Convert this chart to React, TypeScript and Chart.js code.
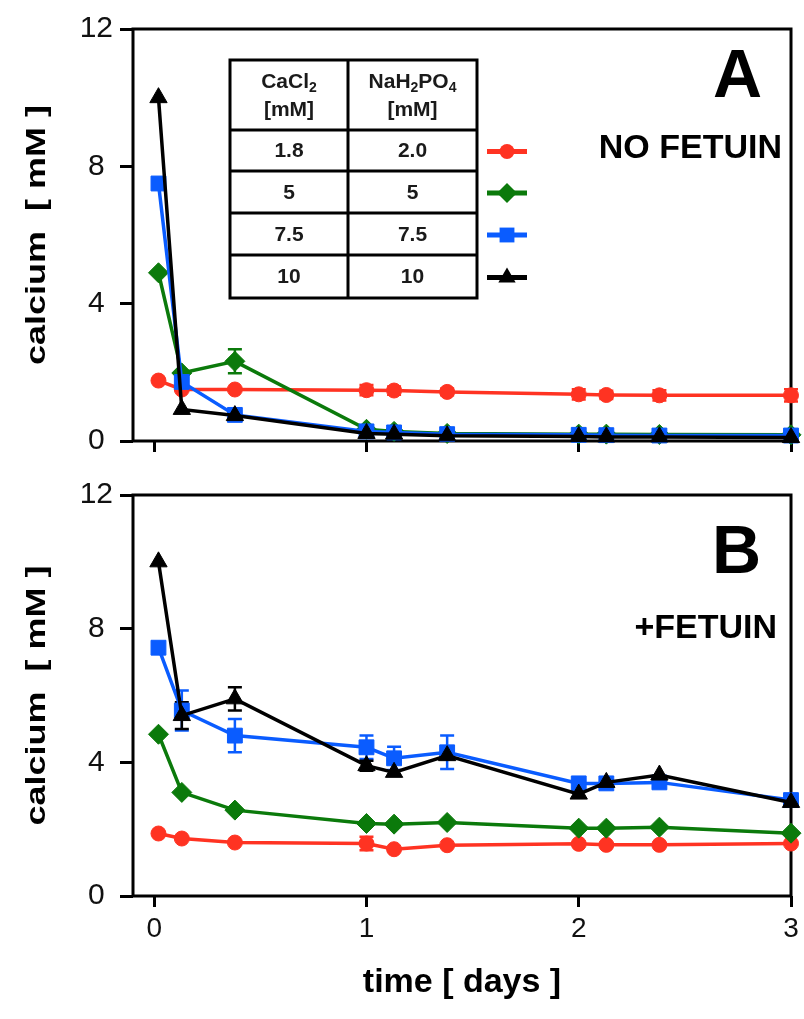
import React, { useEffect, useRef } from "react";
import { Chart, registerables } from "chart.js";
Chart.register(...registerables);

const FONT = "'Liberation Sans', Arial, Helvetica, sans-serif";

// time points [days]
const times = [0.02, 0.13, 0.38, 1.0, 1.13, 1.38, 2.0, 2.13, 2.38, 3.0];
const xTickValues = [0, 1, 2, 3];
const yTickValues = [0, 4, 8, 12];

const seriesNames = ["1.8 / 2.0", "5 / 5", "7.5 / 7.5", "10 / 10"];
const seriesColors = ["#ff3322", "#0b7a0b", "#0a5cff", "#000000"];
const seriesStyles = ["circle", "rectRot", "rect", "triangle"];
const seriesRadius = [7.5, 10, 10.5, 10];

const caCl2Values = ["1.8", "5", "7.5", "10"];
const phosphateValues = ["2.0", "5", "7.5", "10"];

// Panel A: no fetuin
const aRed = [1.76, 1.5, 1.5, 1.48, 1.47, 1.43, 1.36, 1.34, 1.33, 1.33];
const aGreen = [4.9, 1.98, 2.32, 0.34, 0.28, 0.22, 0.2, 0.2, 0.19, 0.18];
const aBlue = [7.5, 1.72, 0.76, 0.28, 0.25, 0.2, 0.18, 0.17, 0.16, 0.16];
const aBlack = [10.0, 0.92, 0.74, 0.22, 0.2, 0.15, 0.13, 0.12, 0.12, 0.1];
const aRedErr = [0, 0, 0, 0.15, 0.12, 0.1, 0.15, 0.12, 0.15, 0.18];
const aGreenErr = [0, 0, 0.35, 0, 0, 0, 0, 0, 0, 0];
const aBlueErr = [0, 0, 0, 0, 0, 0, 0, 0, 0, 0];
const aBlackErr = [0, 0, 0, 0, 0, 0, 0, 0, 0, 0];

// Panel B: + fetuin
const bRed = [1.87, 1.72, 1.6, 1.57, 1.4, 1.52, 1.56, 1.53, 1.53, 1.57];
const bGreen = [4.84, 3.1, 2.57, 2.17, 2.15, 2.2, 2.03, 2.03, 2.06, 1.88];
const bBlue = [7.43, 5.55, 4.8, 4.45, 4.12, 4.3, 3.37, 3.37, 3.4, 2.87];
const bBlack = [10.0, 5.4, 5.9, 3.9, 3.7, 4.2, 3.05, 3.4, 3.62, 2.8];
const bRedErr = [0, 0, 0, 0.2, 0, 0, 0, 0, 0, 0];
const bGreenErr = [0, 0, 0, 0, 0, 0, 0, 0, 0, 0];
const bBlueErr = [0, 0.6, 0.5, 0.35, 0.35, 0.5, 0.1, 0, 0, 0];
const bBlackErr = [0, 0.4, 0.35, 0.15, 0, 0, 0, 0, 0, 0];

function drawMarker(ctx: CanvasRenderingContext2D, style: string, x: number, y: number, r: number) {
  ctx.beginPath();
  if (style === "circle") {
    ctx.arc(x, y, r, 0, Math.PI * 2);
  } else if (style === "rectRot") {
    ctx.moveTo(x - r, y);
    ctx.lineTo(x, y - r);
    ctx.lineTo(x + r, y);
    ctx.lineTo(x, y + r);
  } else if (style === "rect") {
    const s = Math.SQRT1_2 * r;
    ctx.rect(x - s, y - s, 2 * s, 2 * s);
  } else {
    ctx.moveTo(x, y - r);
    ctx.lineTo(x + 0.866 * r, y + 0.5 * r);
    ctx.lineTo(x - 0.866 * r, y + 0.5 * r);
  }
  ctx.closePath();
  ctx.fill();
}

function drawSubText(
  ctx: CanvasRenderingContext2D,
  parts: { t: string; sub?: boolean }[],
  cx: number,
  cy: number,
  size: number
) {
  const big = `bold ${size}px ${FONT}`;
  const small = `bold ${Math.round(size * 0.65)}px ${FONT}`;
  let total = 0;
  parts.forEach((p) => {
    ctx.font = p.sub ? small : big;
    total += ctx.measureText(p.t).width;
  });
  let x = cx - total / 2;
  ctx.textAlign = "left";
  ctx.textBaseline = "middle";
  parts.forEach((p) => {
    ctx.font = p.sub ? small : big;
    ctx.fillText(p.t, x, p.sub ? cy + 6 : cy);
    x += ctx.measureText(p.t).width;
  });
}

type Panel = {
  values: number[][];
  errors: number[][];
  padTop: number;
  xHeight: number;
  showXLabels: boolean;
  decorate: (ctx: CanvasRenderingContext2D, a: any) => void;
};

function makeChart(canvas: HTMLCanvasElement, p: Panel) {
  const datasets = p.values.map((vals, i) => ({
    label: seriesNames[i],
    data: times.map((t, j) => ({ x: t, y: vals[j] })),
    borderColor: seriesColors[i],
    backgroundColor: seriesColors[i],
    pointBackgroundColor: seriesColors[i],
    pointBorderColor: seriesColors[i],
    pointBorderWidth: 1,
    pointStyle: seriesStyles[i],
    pointRadius: seriesRadius[i],
    borderWidth: 3.5,
    tension: 0,
    clip: false as any,
    order: 3 - i,
  }));

  const plugin = {
    id: "frameErrorsText",
    beforeDatasetsDraw(chart: any) {
      const { ctx, chartArea: a, scales } = chart;
      ctx.save();
      ctx.lineWidth = 3;
      ctx.strokeStyle = "#000";
      ctx.strokeRect(a.left, a.top, a.right - a.left, a.bottom - a.top);
      p.errors.forEach((errs, i) => {
        const meta = chart.getDatasetMeta(i);
        errs.forEach((e, j) => {
          if (!e) return;
          const pt = meta.data[j];
          const v = p.values[i][j];
          const y1 = scales.y.getPixelForValue(v + e);
          const y2 = scales.y.getPixelForValue(Math.max(0, v - e));
          ctx.strokeStyle = seriesColors[i];
          ctx.lineWidth = 2.5;
          ctx.beginPath();
          ctx.moveTo(pt.x, y1);
          ctx.lineTo(pt.x, y2);
          ctx.moveTo(pt.x - 7, y1);
          ctx.lineTo(pt.x + 7, y1);
          ctx.moveTo(pt.x - 7, y2);
          ctx.lineTo(pt.x + 7, y2);
          ctx.stroke();
        });
      });
      ctx.restore();
    },
    afterDraw(chart: any) {
      const { ctx, chartArea: a } = chart;
      ctx.save();
      ctx.fillStyle = "#000";
      // y axis title
      ctx.save();
      ctx.translate(37, (a.top + a.bottom) / 2);
      ctx.rotate(-Math.PI / 2);
      ctx.scale(1, 0.78);
      ctx.font = `bold 36px ${FONT}`;
      ctx.textAlign = "center";
      ctx.textBaseline = "middle";
      ctx.fillText("calcium  [ mM ]", 0, 0);
      ctx.restore();
      p.decorate(ctx, a);
      ctx.restore();
    },
  };

  return new Chart(canvas, {
    type: "line",
    data: { datasets },
    options: {
      animation: false,
      responsive: false,
      maintainAspectRatio: false,
      layout: { padding: { top: p.padTop, right: 13, left: 0, bottom: 0 } },
      plugins: { legend: { display: false }, tooltip: { enabled: false } },
      scales: {
        x: {
          type: "linear",
          min: -0.1,
          max: 3,
          afterBuildTicks: (s: any) => {
            s.ticks = xTickValues.map((v) => ({ value: v }));
          },
          afterFit: (s: any) => {
            s.height = p.xHeight;
          },
          border: { display: false },
          grid: {
            drawOnChartArea: false,
            drawTicks: true,
            tickLength: 11,
            tickWidth: 3,
            tickColor: "#000",
          },
          ticks: {
            display: p.showXLabels,
            font: { family: FONT, size: 28 },
            color: "#111",
            padding: 5,
            maxRotation: 0,
            autoSkip: false,
            callback: (v: any) => String(v),
          },
        },
        y: {
          type: "linear",
          min: 0,
          max: 12,
          afterBuildTicks: (s: any) => {
            s.ticks = yTickValues.map((v) => ({ value: v }));
          },
          afterFit: (s: any) => {
            s.width = 133;
          },
          border: { display: false },
          grid: {
            drawOnChartArea: false,
            drawTicks: true,
            tickLength: 13,
            tickWidth: 3,
            tickColor: "#000",
          },
          ticks: {
            font: { family: FONT, size: 30 },
            color: "#111",
            padding: 7,
            crossAlign: "center",
            callback: (v: any) => String(v),
          },
        },
      },
    } as any,
    plugins: [plugin as any],
  });
}

function decorateA(ctx: CanvasRenderingContext2D, a: any) {
  // table
  const L = 230, R = 477, T = 60, B = 298, C = 348;
  const rows = [130, 171, 213, 255];
  ctx.strokeStyle = "#000";
  ctx.lineWidth = 3;
  ctx.strokeRect(L, T, R - L, B - T);
  ctx.beginPath();
  ctx.moveTo(C, T);
  ctx.lineTo(C, B);
  rows.forEach((y) => {
    ctx.moveTo(L, y);
    ctx.lineTo(R, y);
  });
  ctx.stroke();
  ctx.fillStyle = "#1a1a1a";
  const c1 = (L + C) / 2, c2 = (C + R) / 2;
  drawSubText(ctx, [{ t: "CaCl" }, { t: "2", sub: true }], c1, 82, 21);
  drawSubText(ctx, [{ t: "[mM]" }], c1, 110, 21);
  drawSubText(ctx, [{ t: "NaH" }, { t: "2", sub: true }, { t: "PO" }, { t: "4", sub: true }], c2, 82, 21);
  drawSubText(ctx, [{ t: "[mM]" }], c2, 110, 21);
  const edges = [rows[0], rows[1], rows[2], rows[3], B];
  for (let i = 0; i < 4; i++) {
    const cy = (edges[i] + edges[i + 1]) / 2 + 1;
    drawSubText(ctx, [{ t: caCl2Values[i] }], c1, cy, 21);
    drawSubText(ctx, [{ t: phosphateValues[i] }], c2, cy, 21);
    // legend sample
    ctx.strokeStyle = seriesColors[i];
    ctx.fillStyle = seriesColors[i];
    ctx.lineWidth = 5;
    ctx.beginPath();
    ctx.moveTo(487, cy);
    ctx.lineTo(527, cy);
    ctx.stroke();
    drawMarker(ctx, seriesStyles[i], 507, cy, seriesRadius[i]);
    ctx.fillStyle = "#1a1a1a";
  }
  ctx.fillStyle = "#000";
  ctx.textAlign = "right";
  ctx.textBaseline = "alphabetic";
  ctx.font = `bold 68px ${FONT}`;
  ctx.fillText("A", a.right - 29, a.top + 68);
  ctx.font = `bold 34px ${FONT}`;
  ctx.fillText("NO FETUIN", a.right - 9, a.top + 129);
}

function decorateB(ctx: CanvasRenderingContext2D, a: any) {
  ctx.fillStyle = "#000";
  ctx.textAlign = "right";
  ctx.textBaseline = "alphabetic";
  ctx.font = `bold 68px ${FONT}`;
  ctx.fillText("B", a.right - 30, a.top + 78);
  ctx.font = `bold 34px ${FONT}`;
  ctx.fillText("+FETUIN", a.right - 14, a.top + 143);
  ctx.textAlign = "center";
  ctx.fillText("time [ days ]", (a.left + a.right) / 2, a.bottom + 96);
}

export default function App() {
  const topRef = useRef<HTMLCanvasElement>(null);
  const botRef = useRef<HTMLCanvasElement>(null);

  useEffect(() => {
    const c1 = makeChart(topRef.current!, {
      values: [aRed, aGreen, aBlue, aBlack],
      errors: [aRedErr, aGreenErr, aBlueErr, aBlackErr],
      padTop: 29,
      xHeight: 29,
      showXLabels: false,
      decorate: decorateA,
    });
    const c2 = makeChart(botRef.current!, {
      values: [bRed, bGreen, bBlue, bBlack],
      errors: [bRedErr, bGreenErr, bBlueErr, bBlackErr],
      padTop: 24,
      xHeight: 123,
      showXLabels: true,
      decorate: decorateB,
    });
    return () => {
      c1.destroy();
      c2.destroy();
    };
  }, []);

  return (
    <div style={{ position: "absolute", left: 0, top: 0, width: 804, height: 1019, background: "#fff" }}>
      <canvas
        ref={topRef}
        width={804}
        height={470}
        style={{ position: "absolute", left: 0, top: 0, width: 804, height: 470, display: "block" }}
      />
      <canvas
        ref={botRef}
        width={804}
        height={549}
        style={{ position: "absolute", left: 0, top: 470, width: 804, height: 549, display: "block" }}
      />
    </div>
  );
}
